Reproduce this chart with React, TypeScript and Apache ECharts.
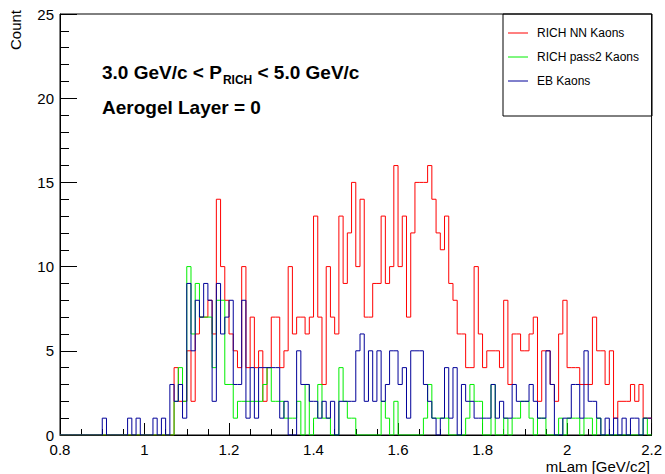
import React, { useEffect, useRef } from "react";
import * as echarts from "echarts";

// Histogram range: 140 bins of 0.01 GeV/c2 between 0.8 and 2.2
const BIN_LO = 0.8;
const BIN_HI = 2.2;

// Bin contents, one entry per bin (low edge 0.80, 0.81, ... 2.19)
const richNNKaons = [
  0, 0, 0, 0, 0, 0, 0, 0, 0, 0,
  0, 0, 0, 0, 0, 0, 0, 0, 0, 0,
  0, 0, 0, 0, 0, 0, 0, 4, 2, 2,
  5, 2, 6, 7, 7, 8, 6, 14, 10, 8,
  6, 5, 4, 10, 4, 7, 4, 5, 2, 4,
  7, 7, 4, 5, 10, 6, 7, 7, 6, 7,
  13, 7, 3, 10, 7, 6, 13, 9, 12, 15,
  10, 14, 7, 7, 9, 9, 13, 9, 10, 16,
  10, 13, 7, 12, 15, 15, 15, 16, 14, 12,
  11, 13, 9, 8, 6, 6, 4, 4, 10, 6,
  4, 5, 5, 5, 4, 8, 3, 6, 6, 5,
  5, 6, 7, 2, 5, 5, 3, 2, 6, 8,
  4, 4, 4, 3, 3, 3, 7, 5, 5, 3,
  5, 1, 2, 2, 2, 3, 2, 3, 1, 1,
];

const richPass2Kaons = [
  0, 0, 0, 0, 0, 0, 0, 0, 0, 0,
  0, 0, 0, 0, 0, 0, 0, 0, 0, 0,
  0, 0, 0, 0, 0, 0, 0, 2, 4, 2,
  10, 6, 9, 7, 7, 7, 4, 8, 8, 3,
  3, 1, 2, 2, 2, 2, 2, 2, 3, 4,
  2, 2, 2, 1, 1, 1, 2, 0, 3, 0,
  1, 3, 1, 1, 0, 0, 4, 2, 1, 1,
  0, 0, 0, 0, 0, 0, 2, 1, 0, 2,
  0, 0, 0, 0, 0, 0, 1, 3, 1, 1,
  1, 1, 0, 0, 0, 0, 1, 3, 2, 2,
  0, 0, 3, 0, 0, 1, 0, 1, 1, 2,
  2, 1, 0, 1, 1, 0, 0, 0, 1, 0,
  1, 1, 1, 0, 1, 1, 0, 1, 0, 0,
  0, 0, 0, 0, 0, 0, 0, 0, 1, 0,
];

const ebKaons = [
  0, 0, 0, 0, 0, 0, 0, 0, 0, 0,
  1, 0, 0, 0, 0, 0, 1, 0, 1, 0,
  0, 0, 1, 0, 1, 0, 3, 2, 3, 1,
  9, 5, 8, 7, 9, 8, 2, 9, 6, 7,
  8, 3, 3, 8, 1, 4, 1, 4, 4, 4,
  4, 4, 1, 2, 0, 0, 5, 3, 3, 2,
  2, 1, 2, 1, 2, 0, 2, 2, 2, 2,
  5, 6, 2, 5, 2, 5, 2, 3, 5, 5,
  3, 4, 1, 5, 5, 5, 3, 2, 1, 0,
  1, 4, 1, 4, 0, 3, 2, 2, 1, 1,
  1, 1, 3, 1, 2, 1, 1, 3, 2, 2,
  2, 3, 2, 1, 1, 5, 3, 0, 0, 1,
  1, 3, 3, 1, 5, 2, 2, 1, 0, 1,
  0, 1, 0, 1, 0, 1, 1, 0, 1, 1,
];

const seriesNames = ["RICH NN Kaons", "RICH pass2 Kaons", "EB Kaons"];
const seriesColors = ["#ff0000", "#00ee00", "#000099"];

const FONT = "'Liberation Sans', Arial, Helvetica, sans-serif";

// Turn bin contents into step-line vertices at the bin low edges,
// closing the last bin at the upper range limit.
function toSteps(values: number[]): number[][] {
  const width = (BIN_HI - BIN_LO) / values.length;
  const pts = values.map((v, i) => [+(BIN_LO + i * width).toFixed(4), v]);
  pts.push([BIN_HI, values[values.length - 1]]);
  return pts;
}

function textWidth(text: string, font: string): number {
  const ctx = document.createElement("canvas").getContext("2d");
  if (!ctx) return text.length * 10;
  ctx.font = font;
  return ctx.measureText(text).width;
}

export default function App() {
  const ref = useRef<HTMLDivElement>(null);

  useEffect(() => {
    document.body.style.margin = "0";
    if (!ref.current) return;
    const chart = echarts.init(ref.current, undefined, { renderer: "svg" });

    const titleX = 102;
    const part1 = "3.0 GeV/c < P";
    const part2 = "RICH";
    const part3 = " < 5.0 GeV/c";
    const w1 = textWidth(part1, `bold 19px ${FONT}`);
    const w2 = textWidth(part2, `bold 12px ${FONT}`);

    const datasets = [richNNKaons, richPass2Kaons, ebKaons];

    // Legend box with a short line sample per histogram
    const legendBox = { x: 503, y: 14, w: 149, h: 102 };
    const legendRows = [33, 57, 81];
    const legendItems: any[] = [];
    seriesNames.forEach((name, i) => {
      legendItems.push({
        type: "line",
        shape: { x1: 508, y1: legendRows[i], x2: 528, y2: legendRows[i] },
        style: { stroke: seriesColors[i], lineWidth: 1 },
        silent: true,
      });
      legendItems.push({
        type: "text",
        x: 537,
        y: legendRows[i],
        style: { text: name, font: `12px ${FONT}`, fill: "#000", verticalAlign: "middle" },
        silent: true,
      });
    });

    chart.setOption({
      animation: false,
      backgroundColor: "#ffffff",
      grid: {
        left: 60,
        top: 14,
        width: 592,
        height: 421,
        show: true,
        borderColor: "#000000",
        borderWidth: 1,
        backgroundColor: "transparent",
      },
      xAxis: {
        type: "value",
        min: BIN_LO,
        max: BIN_HI,
        interval: 0.2,
        axisLine: { show: true, onZero: false, lineStyle: { color: "#000", width: 1 } },
        axisTick: { show: true, inside: true, length: 12, lineStyle: { color: "#000", width: 1 } },
        minorTick: { show: true, splitNumber: 4, length: 6, lineStyle: { color: "#000", width: 1 } },
        axisLabel: {
          color: "#000",
          fontSize: 15,
          lineHeight: 12,
          fontFamily: FONT,
          margin: 8,
          formatter: (v: number) => String(+v.toFixed(1)),
        },
        splitLine: { show: false },
      },
      yAxis: {
        type: "value",
        min: 0,
        max: 25,
        interval: 5,
        axisLine: { show: true, lineStyle: { color: "#000", width: 1 } },
        axisTick: { show: true, inside: true, length: 17, lineStyle: { color: "#000", width: 1 } },
        minorTick: { show: true, splitNumber: 5, length: 9, lineStyle: { color: "#000", width: 1 } },
        axisLabel: { color: "#000", fontSize: 15, lineHeight: 12, fontFamily: FONT, margin: 6 },
        splitLine: { show: false },
      },
      series: datasets.map((vals, i) => ({
        name: seriesNames[i],
        type: "line",
        step: "end",
        symbol: "none",
        data: toSteps(vals),
        color: seriesColors[i],
        lineStyle: { color: seriesColors[i], width: 1 },
        silent: true,
      })),
      graphic: [
        {
          type: "rect",
          shape: { x: legendBox.x, y: legendBox.y, width: legendBox.w, height: legendBox.h },
          style: { fill: "none", stroke: "#000", lineWidth: 1 },
          silent: true,
        },
        ...legendItems,
        {
          type: "text",
          x: titleX,
          y: 72,
          style: { text: part1, font: `bold 19px ${FONT}`, fill: "#000", verticalAlign: "middle" },
        },
        {
          type: "text",
          x: titleX + w1 + 1,
          y: 80,
          style: { text: part2, font: `bold 12px ${FONT}`, fill: "#000", verticalAlign: "middle" },
        },
        {
          type: "text",
          x: titleX + w1 + 1 + w2,
          y: 72,
          style: { text: part3, font: `bold 19px ${FONT}`, fill: "#000", verticalAlign: "middle" },
        },
        {
          type: "text",
          x: titleX,
          y: 107,
          style: { text: "Aerogel Layer = 0", font: `bold 19px ${FONT}`, fill: "#000", verticalAlign: "middle" },
        },
        {
          type: "text",
          x: 15,
          y: 10,
          rotation: Math.PI / 2,
          style: { text: "Count", font: `15px ${FONT}`, fill: "#000", align: "right", verticalAlign: "middle" },
        },
        {
          type: "text",
          x: 650,
          y: 466,
          style: { text: "mLam [GeV/c2]", font: `15px ${FONT}`, fill: "#000", align: "right", verticalAlign: "middle" },
        },
      ],
    });

    return () => chart.dispose();
  }, []);

  return <div ref={ref} style={{ width: 665, height: 474 }} />;
}
